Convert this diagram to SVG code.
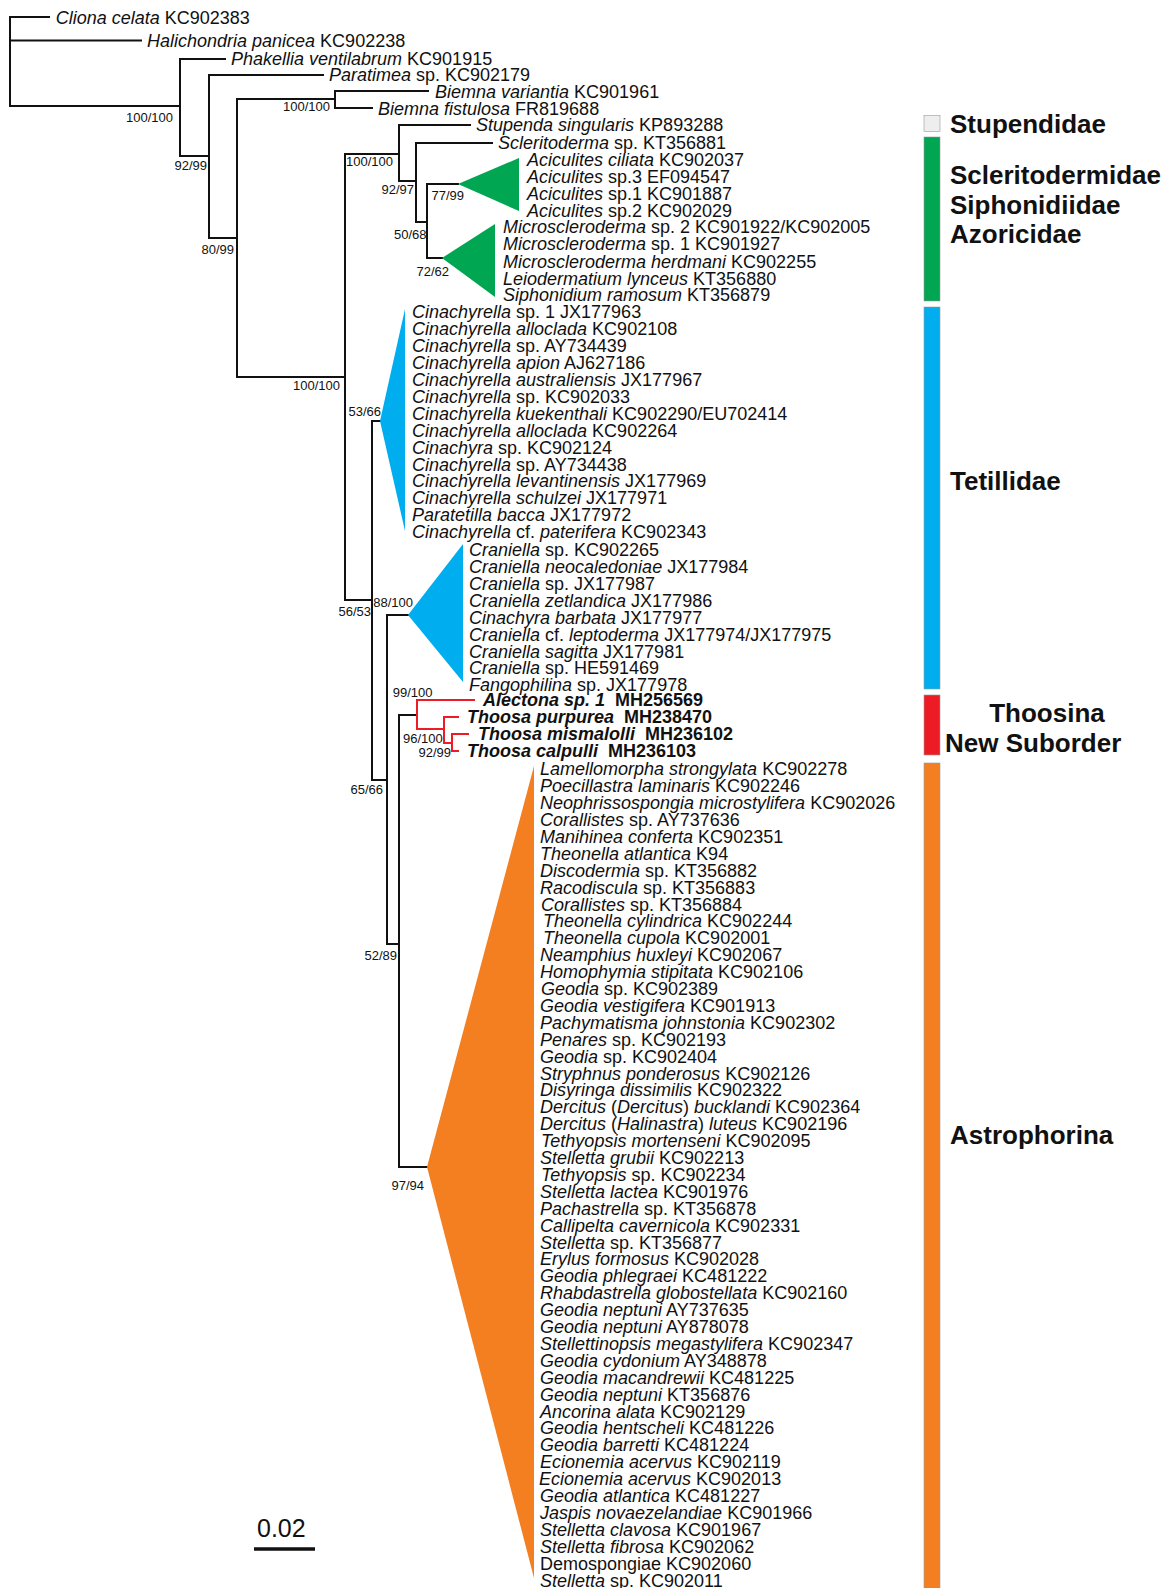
<svg xmlns="http://www.w3.org/2000/svg" width="1169" height="1588" viewBox="0 0 1169 1588">
<style>
text{font-family:"Liberation Sans",Arial,sans-serif;fill:#111}
.t text{font-size:18px}
.i{font-style:italic}
.b{font-weight:bold}
.s{font-size:13px;text-anchor:end}
.g{font-size:26px;font-weight:bold}
.br{fill:none;stroke:#111;stroke-width:2;stroke-linecap:square}
.rd{fill:none;stroke:#ED1C24;stroke-width:2;stroke-linecap:square}
.grn{fill:#00A651}
.blu{fill:#00AEEF}
.org{fill:#F47F20}
.bar{stroke:#999;stroke-width:0.6}
</style>
<rect width="1169" height="1588" fill="#fff"/>
<g id="connectors">
<path class="br" d="M10,17 H49 M10,17 V106 M10,40.5 H141 M10,106 H180 M180,59 V156 M180,59 H225 M180,156 H209 M209,75 V238 M209,75 H323 M209,238 H237 M237,99 V377 M237,99 H335 M335,91 V108 M335,91 H428 M335,108 H372 M237,377 H345 M345,154 V600 M345,154 H399 M399,125 V181 M399,125 H470 M399,181 H416 M416,143 V222 M416,143 H492 M416,222 H427 M427,184 V258 M427,184 H458 M427,258 H442 M345,600 H372 M372,421 V780 M372,421 H380 M372,780 H387 M387,615 V944 M387,615 H408 M387,944 H399 M399,715 V1167 M399,715 H417 M399,1167 H427"/>
<path class="rd" d="M417,700 V729 M417,700 H474 M417,729 H444 M444,717 V743 M444,717 H458 M444,743 H452 M452,734 V751 M452,734 H468 M452,751 H458"/>
</g>
<g id="clades">
<polygon id="clade-aciculites" class="grn" points="458,184 519,158 519,211"/>
<polygon id="clade-microscleroderma" class="grn" points="442,258 495,224 495,297"/>
<polygon id="clade-cinachyrella" class="blu" points="380,421 405,309 405,531"/>
<polygon id="clade-craniella" class="blu" points="408,615 463,544 463,682"/>
<polygon id="clade-astrophorina" class="org" points="427,1167 534,766 534,1578"/>
</g>
<g id="support">
<text class="s" x="173" y="121.7">100/100</text>
<text class="s" x="207" y="169.7">92/99</text>
<text class="s" x="234" y="253.7">80/99</text>
<text class="s" x="330" y="110.7">100/100</text>
<text class="s" x="393" y="165.7">100/100</text>
<text class="s" x="414" y="194">92/97</text>
<text class="s" x="464" y="200">77/99</text>
<text class="s" x="426.5" y="238.7">50/68</text>
<text class="s" x="449" y="276">72/62</text>
<text class="s" x="340" y="389.7">100/100</text>
<text class="s" x="381" y="415.7">53/66</text>
<text class="s" x="371" y="615.7">56/53</text>
<text class="s" x="413" y="606.7">88/100</text>
<text class="s" x="432.5" y="696.7">99/100</text>
<text class="s" x="442.7" y="743.2">96/100</text>
<text class="s" x="451" y="757.3">92/99</text>
<text class="s" x="383" y="793.7">65/66</text>
<text class="s" x="397" y="959.7">52/89</text>
<text class="s" x="424" y="1189.7">97/94</text>
</g>
<g class="t">
<g id="tx-cliona"><text x="55.7" y="23.6"><tspan class="i">Cliona celata</tspan> KC902383</text></g>
<g id="tx-halichondria"><text x="147" y="46.9"><tspan class="i">Halichondria panicea</tspan> KC902238</text></g>
<g id="tx-phakellia"><text x="231" y="65.2"><tspan class="i">Phakellia ventilabrum</tspan> KC901915</text></g>
<g id="tx-paratimea"><text x="329" y="81.4"><tspan class="i">Paratimea</tspan> sp. KC902179</text></g>
<g id="tx-biemna-v"><text x="435" y="97.6"><tspan class="i">Biemna variantia</tspan> KC901961</text></g>
<g id="tx-biemna-f"><text x="378" y="114.8"><tspan class="i">Biemna fistulosa</tspan> FR819688</text></g>
<g id="tx-stupenda"><text x="476" y="131"><tspan class="i">Stupenda singularis</tspan> KP893288</text></g>
<g id="tx-scleritoderma"><text x="498" y="149.2"><tspan class="i">Scleritoderma</tspan> sp. KT356881</text></g>
<g id="tx-acic-1"><text x="527" y="166.4"><tspan class="i">Aciculites ciliata</tspan> KC902037</text></g>
<g id="tx-acic-2"><text x="527" y="183.1"><tspan class="i">Aciculites</tspan> sp.3 EF094547</text></g>
<g id="tx-acic-3"><text x="527" y="199.7"><tspan class="i">Aciculites</tspan> sp.1 KC901887</text></g>
<g id="tx-acic-4"><text x="527" y="216.6"><tspan class="i">Aciculites</tspan> sp.2 KC902029</text></g>
<g id="tx-micro-1"><text x="503" y="233.4"><tspan class="i">Microscleroderma</tspan> sp. 2 KC901922/KC902005</text></g>
<g id="tx-micro-2"><text x="503" y="250.4"><tspan class="i">Microscleroderma</tspan> sp. 1 KC901927</text></g>
<g id="tx-micro-3"><text x="503" y="267.8"><tspan class="i">Microscleroderma herdmani</tspan> KC902255</text></g>
<g id="tx-leiodermatium"><text x="503" y="284.8"><tspan class="i">Leiodermatium lynceus</tspan> KT356880</text></g>
<g id="tx-siphonidium"><text x="503" y="301.4"><tspan class="i">Siphonidium ramosum</tspan> KT356879</text></g>

<g id="tx-cina-01"><text x="412" y="318.4"><tspan class="i">Cinachyrella</tspan> sp. 1 JX177963</text></g>
<g id="tx-cina-02"><text x="412" y="335.3"><tspan class="i">Cinachyrella alloclada</tspan> KC902108</text></g>
<g id="tx-cina-03"><text x="412" y="352.2"><tspan class="i">Cinachyrella</tspan> sp. AY734439</text></g>
<g id="tx-cina-04"><text x="412" y="369.1"><tspan class="i">Cinachyrella apion</tspan> AJ627186</text></g>
<g id="tx-cina-05"><text x="412" y="386"><tspan class="i">Cinachyrella australiensis</tspan> JX177967</text></g>
<g id="tx-cina-06"><text x="412" y="402.9"><tspan class="i">Cinachyrella</tspan> sp. KC902033</text></g>
<g id="tx-cina-07"><text x="412" y="419.8"><tspan class="i">Cinachyrella kuekenthali</tspan> KC902290/EU702414</text></g>
<g id="tx-cina-08"><text x="412" y="436.7"><tspan class="i">Cinachyrella alloclada</tspan> KC902264</text></g>
<g id="tx-cina-09"><text x="412" y="453.6"><tspan class="i">Cinachyra</tspan> sp. KC902124</text></g>
<g id="tx-cina-10"><text x="412" y="470.5"><tspan class="i">Cinachyrella</tspan> sp. AY734438</text></g>
<g id="tx-cina-11"><text x="412" y="487.4"><tspan class="i">Cinachyrella levantinensis</tspan> JX177969</text></g>
<g id="tx-cina-12"><text x="412" y="504.3"><tspan class="i">Cinachyrella schulzei</tspan> JX177971</text></g>
<g id="tx-cina-13"><text x="412" y="521.2"><tspan class="i">Paratetilla bacca</tspan> JX177972</text></g>
<g id="tx-cina-14"><text x="412" y="538.1"><tspan class="i">Cinachyrella</tspan> cf. <tspan class="i">paterifera</tspan> KC902343</text></g>

<g id="tx-cran-1"><text x="469" y="556.4"><tspan class="i">Craniella</tspan> sp. KC902265</text></g>
<g id="tx-cran-2"><text x="469" y="573.3"><tspan class="i">Craniella neocaledoniae</tspan> JX177984</text></g>
<g id="tx-cran-3"><text x="469" y="590.1"><tspan class="i">Craniella</tspan> sp. JX177987</text></g>
<g id="tx-cran-4"><text x="469" y="607"><tspan class="i">Craniella zetlandica</tspan> JX177986</text></g>
<g id="tx-cran-5"><text x="469" y="623.8"><tspan class="i">Cinachyra barbata</tspan> JX177977</text></g>
<g id="tx-cran-6"><text x="469" y="640.7"><tspan class="i">Craniella</tspan> cf. <tspan class="i">leptoderma</tspan> JX177974/JX177975</text></g>
<g id="tx-cran-7"><text x="469" y="657.5"><tspan class="i">Craniella sagitta</tspan> JX177981</text></g>
<g id="tx-cran-8"><text x="469" y="674.4"><tspan class="i">Craniella</tspan> sp. HE591469</text></g>
<g id="tx-cran-9"><text x="469" y="691.2"><tspan class="i">Fangophilina</tspan> sp. JX177978</text></g>

<g id="tx-alectona"><text class="b" x="483" y="706.4"><tspan class="i">Alectona sp. 1</tspan><tspan dx="10">MH256569</tspan></text></g>
<g id="tx-thoosa-p"><text class="b" x="467" y="723.4"><tspan class="i">Thoosa purpurea</tspan><tspan dx="10">MH238470</tspan></text></g>
<g id="tx-thoosa-m"><text class="b" x="478" y="740.4"><tspan class="i">Thoosa mismalolli</tspan><tspan dx="10">MH236102</tspan></text></g>
<g id="tx-thoosa-c"><text class="b" x="467" y="757.4"><tspan class="i">Thoosa calpulli</tspan><tspan dx="10">MH236103</tspan></text></g>

<g id="tx-astro-01"><text x="540" y="775.3"><tspan class="i">Lamellomorpha strongylata</tspan> KC902278</text></g>
<g id="tx-astro-02"><text x="540" y="792.2"><tspan class="i">Poecillastra laminaris</tspan> KC902246</text></g>
<g id="tx-astro-03"><text x="540" y="809.1"><tspan class="i">Neophrissospongia microstylifera</tspan> KC902026</text></g>
<g id="tx-astro-04"><text x="540" y="826"><tspan class="i">Corallistes</tspan> sp. AY737636</text></g>
<g id="tx-astro-05"><text x="540" y="842.9"><tspan class="i">Manihinea conferta</tspan> KC902351</text></g>
<g id="tx-astro-06"><text x="540" y="859.8"><tspan class="i">Theonella atlantica</tspan> K94</text></g>
<g id="tx-astro-07"><text x="540" y="876.7"><tspan class="i">Discodermia</tspan> sp. KT356882</text></g>
<g id="tx-astro-08"><text x="540" y="893.6"><tspan class="i">Racodiscula</tspan> sp. KT356883</text></g>
<g id="tx-astro-09"><text x="541" y="910.5"><tspan class="i">Corallistes</tspan> sp. KT356884</text></g>
<g id="tx-astro-10"><text x="543" y="927.4"><tspan class="i">Theonella cylindrica</tspan> KC902244</text></g>
<g id="tx-astro-11"><text x="543" y="944.3"><tspan class="i">Theonella cupola</tspan> KC902001</text></g>
<g id="tx-astro-12"><text x="540" y="961.2"><tspan class="i">Neamphius huxleyi</tspan> KC902067</text></g>
<g id="tx-astro-13"><text x="540" y="978.1"><tspan class="i">Homophymia stipitata</tspan> KC902106</text></g>
<g id="tx-astro-14"><text x="541" y="995"><tspan class="i">Geodia</tspan> sp. KC902389</text></g>
<g id="tx-astro-15"><text x="540" y="1011.9"><tspan class="i">Geodia vestigifera</tspan> KC901913</text></g>
<g id="tx-astro-16"><text x="540" y="1028.8"><tspan class="i">Pachymatisma johnstonia</tspan> KC902302</text></g>
<g id="tx-astro-17"><text x="540" y="1045.7"><tspan class="i">Penares</tspan> sp. KC902193</text></g>
<g id="tx-astro-18"><text x="540" y="1062.6"><tspan class="i">Geodia</tspan> sp. KC902404</text></g>
<g id="tx-astro-19"><text x="540" y="1079.5"><tspan class="i">Stryphnus ponderosus</tspan> KC902126</text></g>
<g id="tx-astro-20"><text x="540" y="1096.4"><tspan class="i">Disyringa dissimilis</tspan> KC902322</text></g>
<g id="tx-astro-21"><text x="540" y="1113.3"><tspan class="i">Dercitus</tspan> (<tspan class="i">Dercitus</tspan>) <tspan class="i">bucklandi</tspan> KC902364</text></g>
<g id="tx-astro-22"><text x="540" y="1130.2"><tspan class="i">Dercitus</tspan> (<tspan class="i">Halinastra</tspan>) <tspan class="i">luteus</tspan> KC902196</text></g>
<g id="tx-astro-23"><text x="541" y="1147.1"><tspan class="i">Tethyopsis mortenseni</tspan> KC902095</text></g>
<g id="tx-astro-24"><text x="540" y="1164"><tspan class="i">Stelletta grubii</tspan> KC902213</text></g>
<g id="tx-astro-25"><text x="541" y="1180.9"><tspan class="i">Tethyopsis</tspan> sp. KC902234</text></g>
<g id="tx-astro-26"><text x="540" y="1197.8"><tspan class="i">Stelletta lactea</tspan> KC901976</text></g>
<g id="tx-astro-27"><text x="540" y="1214.7"><tspan class="i">Pachastrella</tspan> sp. KT356878</text></g>
<g id="tx-astro-28"><text x="540" y="1231.6"><tspan class="i">Callipelta cavernicola</tspan> KC902331</text></g>
<g id="tx-astro-29"><text x="540" y="1248.5"><tspan class="i">Stelletta</tspan> sp. KT356877</text></g>
<g id="tx-astro-30"><text x="540" y="1265.4"><tspan class="i">Erylus formosus</tspan> KC902028</text></g>
<g id="tx-astro-31"><text x="540" y="1282.3"><tspan class="i">Geodia phlegraei</tspan> KC481222</text></g>
<g id="tx-astro-32"><text x="540" y="1299.2"><tspan class="i">Rhabdastrella globostellata</tspan> KC902160</text></g>
<g id="tx-astro-33"><text x="540" y="1316.1"><tspan class="i">Geodia neptuni</tspan> AY737635</text></g>
<g id="tx-astro-34"><text x="540" y="1333"><tspan class="i">Geodia neptuni</tspan> AY878078</text></g>
<g id="tx-astro-35"><text x="540" y="1349.9"><tspan class="i">Stellettinopsis megastylifera</tspan> KC902347</text></g>
<g id="tx-astro-36"><text x="540" y="1366.8"><tspan class="i">Geodia cydonium</tspan> AY348878</text></g>
<g id="tx-astro-37"><text x="540" y="1383.7"><tspan class="i">Geodia macandrewii</tspan> KC481225</text></g>
<g id="tx-astro-38"><text x="540" y="1400.6"><tspan class="i">Geodia neptuni</tspan> KT356876</text></g>
<g id="tx-astro-39"><text x="540" y="1417.5"><tspan class="i">Ancorina alata</tspan> KC902129</text></g>
<g id="tx-astro-40"><text x="540" y="1434.4"><tspan class="i">Geodia hentscheli</tspan> KC481226</text></g>
<g id="tx-astro-41"><text x="540" y="1451.3"><tspan class="i">Geodia barretti</tspan> KC481224</text></g>
<g id="tx-astro-42"><text x="540" y="1468.2"><tspan class="i">Ecionemia acervus</tspan> KC902119</text></g>
<g id="tx-astro-43"><text x="539" y="1485.1"><tspan class="i">Ecionemia acervus</tspan> KC902013</text></g>
<g id="tx-astro-44"><text x="540" y="1502"><tspan class="i">Geodia atlantica</tspan> KC481227</text></g>
<g id="tx-astro-45"><text x="540" y="1518.9"><tspan class="i">Jaspis novaezelandiae</tspan> KC901966</text></g>
<g id="tx-astro-46"><text x="540" y="1535.8"><tspan class="i">Stelletta clavosa</tspan> KC901967</text></g>
<g id="tx-astro-47"><text x="540" y="1552.7"><tspan class="i">Stelletta fibrosa</tspan> KC902062</text></g>
<g id="tx-astro-48"><text x="540" y="1569.6">Demospongiae KC902060</text></g>
<g id="tx-astro-49"><text x="540" y="1586.5"><tspan class="i">Stelletta</tspan> sp. KC902011</text></g>
</g>
<g id="legend">
<g id="grp-stupendidae"><rect class="bar" x="924" y="115.5" width="16" height="16" fill="#eeeeee"/><text class="g" x="950" y="133">Stupendidae</text></g>
<g id="grp-scleritodermidae"><rect class="bar grn" x="924" y="137" width="16" height="164"/><text class="g" x="950" y="184.3">Scleritodermidae</text><text class="g" x="950" y="213.9">Siphonidiidae</text><text class="g" x="950" y="243.3">Azoricidae</text></g>
<g id="grp-tetillidae"><rect class="bar blu" x="924" y="307" width="16" height="382"/><text class="g" x="950" y="490.3">Tetillidae</text></g>
<g id="grp-thoosina"><rect class="bar" x="924" y="695" width="16" height="60" fill="#ED1C24"/><text class="g" x="1047" y="722.3" text-anchor="middle">Thoosina</text><text class="g" x="945" y="751.8">New Suborder</text></g>
<g id="grp-astrophorina"><rect class="bar org" x="924" y="763" width="16" height="826"/><text class="g" x="950" y="1143.9">Astrophorina</text></g>
</g>
<g id="scale">
<text x="257" y="1537" font-size="25">0.02</text>
<line x1="254" y1="1549" x2="315" y2="1549" stroke="#111" stroke-width="3.5"/>
</g>
</svg>
